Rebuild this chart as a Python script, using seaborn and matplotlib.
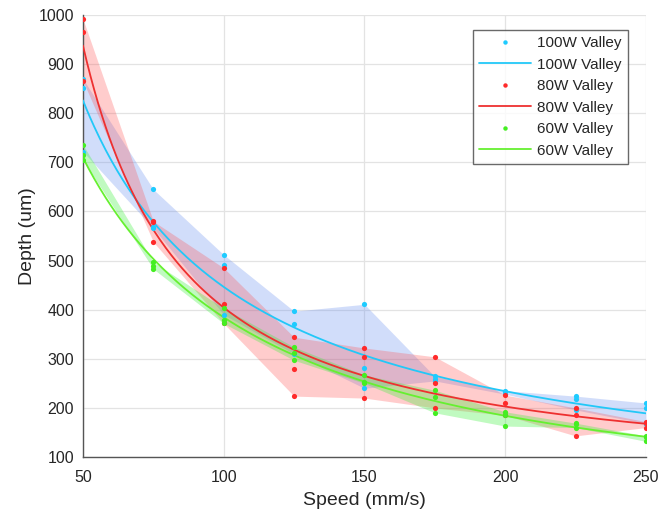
import numpy as np
import pandas as pd
import matplotlib
matplotlib.use("Agg")
import matplotlib.pyplot as plt
import seaborn as sns
from matplotlib.lines import Line2D

# ---- data ----
speeds = [50, 75, 100, 125, 150, 175, 200, 225, 250]
labels = ["100W Valley", "80W Valley", "60W Valley"]

# three replicate depth measurements per speed
depth_100w = [[870, 852, 722], [645, 568, 566], [512, 492, 390], [397, 370, 310],
              [411, 281, 240], [264, 258, 255], [235, 232, 228], [224, 218, 196],
              [210, 200, 168]]
depth_80w = [[992, 965, 866], [580, 578, 538], [485, 411, 372], [344, 279, 224],
             [322, 304, 220], [304, 250, 200], [226, 210, 185], [200, 186, 143],
             [172, 169, 160]]
depth_60w = [[736, 714, 705], [497, 489, 483], [403, 379, 372], [324, 312, 297],
             [267, 253, 250], [236, 222, 190], [192, 185, 163], [169, 168, 160],
             [143, 140, 132]]

point_colors = ["#1ecbff", "#ff2a2a", "#44ee22"]
line_colors = ["#22c8f8", "#ee3030", "#66f030"]
band_colors = ["#5d86ee", "#ff4a4a", "#40f040"]
band_alpha = [0.28, 0.28, 0.33]

series = [depth_100w, depth_80w, depth_60w]

sns.set_style("white")
plt.rcParams["font.family"] = ["Liberation Sans", "DejaVu Sans"]

fig = plt.figure(figsize=(6.69, 5.16), dpi=100)
ax = fig.add_axes([0.124, 0.1143, 0.8415, 0.8566])

x_arr = np.array(speeds, dtype=float)
grid = np.linspace(50, 250, 300)
handles = []

for i, (lab, data) in enumerate(zip(labels, series)):
    arr = np.array(data, dtype=float)
    lo = arr.min(axis=1)
    hi = arr.max(axis=1)
    ax.fill_between(x_arr, lo, hi, color=band_colors[i], alpha=band_alpha[i],
                    linewidth=0, zorder=1)

for i, (lab, data) in enumerate(zip(labels, series)):
    arr = np.array(data, dtype=float)
    df = pd.DataFrame({"speed": np.repeat(x_arr, arr.shape[1]),
                       "depth": arr.ravel()})
    # least-squares fit in log-log space (quadratic)
    coef = np.polyfit(np.log(df["speed"]), np.log(df["depth"]), 2)
    fit = pd.DataFrame({"speed": grid,
                        "depth": np.exp(np.polyval(coef, np.log(grid)))})
    sns.lineplot(data=fit, x="speed", y="depth", ax=ax, color=line_colors[i],
                 linewidth=1.3, zorder=3, legend=False)
    sns.scatterplot(data=df, x="speed", y="depth", ax=ax, color=point_colors[i],
                    s=14, linewidth=0, zorder=4, legend=False)
    handles.append(Line2D([], [], linestyle="none", marker="o", markersize=3.2,
                          markerfacecolor=point_colors[i], markeredgewidth=0,
                          label=lab))
    handles.append(Line2D([], [], color=line_colors[i], linewidth=1.3, label=lab))

ax.set_xlim(50, 250)
ax.set_ylim(100, 1000)
ax.set_xticks([50, 100, 150, 200, 250])
ax.set_yticks(range(100, 1001, 100))
ax.grid(True, color="#e3e3e3", linewidth=0.9)
ax.set_axisbelow(True)
for s in ["top", "right"]:
    ax.spines[s].set_visible(False)
for s in ["left", "bottom"]:
    ax.spines[s].set_color("#555555")
    ax.spines[s].set_linewidth(1.0)
ax.tick_params(direction="in", length=4, color="#555555", labelsize=11.5,
               labelcolor="#262626")
ax.tick_params(axis="x", pad=9.5)
ax.tick_params(axis="y", pad=6.5)
ax.set_xlabel("Speed (mm/s)", fontsize=14, color="#262626", labelpad=5)
ax.set_ylabel("Depth (um)", fontsize=14, color="#262626", labelpad=2)

leg = ax.legend(handles=handles, loc="upper right", bbox_to_anchor=(0.968, 0.966),
                borderaxespad=0, fontsize=11, frameon=True, fancybox=False,
                handlelength=3.4, labelspacing=0.49, borderpad=0.4,
                handletextpad=0.4)
leg.get_frame().set_edgecolor("#444444")
leg.get_frame().set_linewidth(1.0)
for t in leg.get_texts():
    t.set_color("#262626")

fig.savefig("out.png", dpi=100)
